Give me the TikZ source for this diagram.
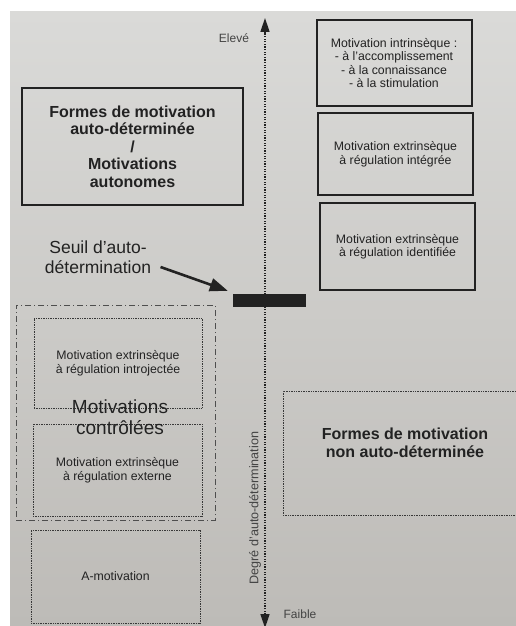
\documentclass[tikz,border=0pt]{standalone}
\usepackage{fontspec}
\setmainfont{Liberation Sans}
\usepackage{xcolor}
\usepackage{tikz}
\usetikzlibrary{
	arrows,
	arrows.meta
}
\definecolor{page}{HTML}{DADAD8}
\definecolor{pagedark}{HTML}{BDBBB7}
\definecolor{ink}{HTML}{222222}

\begin{document}
\begin{tikzpicture}[x=1pt,y=-1pt,
		solidbox/.style={draw=ink,line width=2pt,minimum width=155pt,align=center,
			text=ink,font=\fontsize{12.3}{13.5}\selectfont},
		dottedbox/.style={draw=ink!90,line width=0.9pt,dash pattern=on 0.8pt off 0.9pt,
			minimum width=168pt,align=center,text=ink,font=\fontsize{12.3}{14.5}\selectfont},
		biglabel/.style={align=center,text=ink,font=\bfseries\fontsize{16}{17.5}\selectfont},
		axislabel/.style={text=ink!85,font=\fontsize{12}{13}\selectfont}]
		\clip (0, 0) rectangle (516, 626);
		\fill[white] (0, 0) rectangle (516, 626);
		\shade[top color=page,bottom color=pagedark] (10, 12) rectangle (516, 626);

		% autonomous side
		\node[solidbox,minimum height=86pt] at (394, 63) (intrinseque)
			{Motivation intrinsèque :\\
				- à l'accomplissement\\
				- à la connaissance\\
				- à la stimulation};
		\node[solidbox,minimum height=82pt] at (395.5, 154) (integree)
			{Motivation extrinsèque\\
				à régulation intégrée};
		\node[solidbox,minimum height=87pt] at (397.5, 246.5) (identifiee)
			{Motivation extrinsèque\\
				à régulation identifiée};
		\node[solidbox,biglabel,minimum width=221pt,minimum height=117pt] at (132.5, 146.5) (autonomes)
			{Formes de motivation\\
				auto-déterminée\\
				/\\
				Motivations\\
				autonomes};

		% threshold
		\node[align=center,text=ink,font=\fontsize{17.5}{20}\selectfont] at (98, 257) (seuil-label)
			{Seuil d'auto-\\
				détermination};
		\node[fill=ink,minimum width=73pt,minimum height=13pt,inner sep=0pt] at (269.5, 300.5) (seuil-bar) {};
		\draw[-{Triangle[length=18pt,width=13pt]},line width=2.6pt,ink]
			([xshift=6pt,yshift=-10pt]seuil-label.east) -- ([xshift=-5pt,yshift=3pt]seuil-bar.north west);

		% controlled side
		\node[draw=ink!80,line width=1pt,dash pattern=on 6pt off 3pt on 1pt off 3pt,
			minimum width=199pt,minimum height=215pt] at (115.5, 412.5) (controlees-frame) {};
		\node[dottedbox,minimum height=90pt] at (118, 363) (introjectee)
			{Motivation extrinsèque\\
				à régulation introjectée};
		\node[dottedbox,minimum width=169pt,minimum height=92pt] at (117.5, 470) (externe)
			{Motivation extrinsèque\\
				à régulation externe};
		\node[dottedbox,minimum width=169pt,minimum height=93pt] at (115.5, 576.5) (amotivation)
			{A-motivation};
		\node[align=center,text=ink,font=\fontsize{19}{21}\selectfont] at (120, 417.5) (controlees-label)
			{Motivations\\
				contrôlées};
		\node[dottedbox,minimum width=244pt,minimum height=124pt] at (405, 453) (non-auto-frame) {};
		\node[biglabel] at (405, 443) (non-auto-label)
			{Formes de motivation\\
				non auto-déterminée};

		% axis
		\coordinate (axis-top) at (265, 18);
		\coordinate (axis-bottom) at (265, 628);
		\draw[{Triangle[length=14pt,width=9pt]}-{Triangle[length=14pt,width=9pt]},ink,
			line width=1.6pt,dash pattern=on 1.2pt off 1.4pt] (axis-bottom) -- (axis-top);
		\node[axislabel] at (234, 38) (eleve) {Elevé};
		\node[axislabel] at (300, 614) (faible) {Faible};
		\node[axislabel,font=\fontsize{12.6}{13}\selectfont,rotate=90] at (255, 508) (degre) {Degré d'auto-détermination};
	\end{tikzpicture}
\end{document}
